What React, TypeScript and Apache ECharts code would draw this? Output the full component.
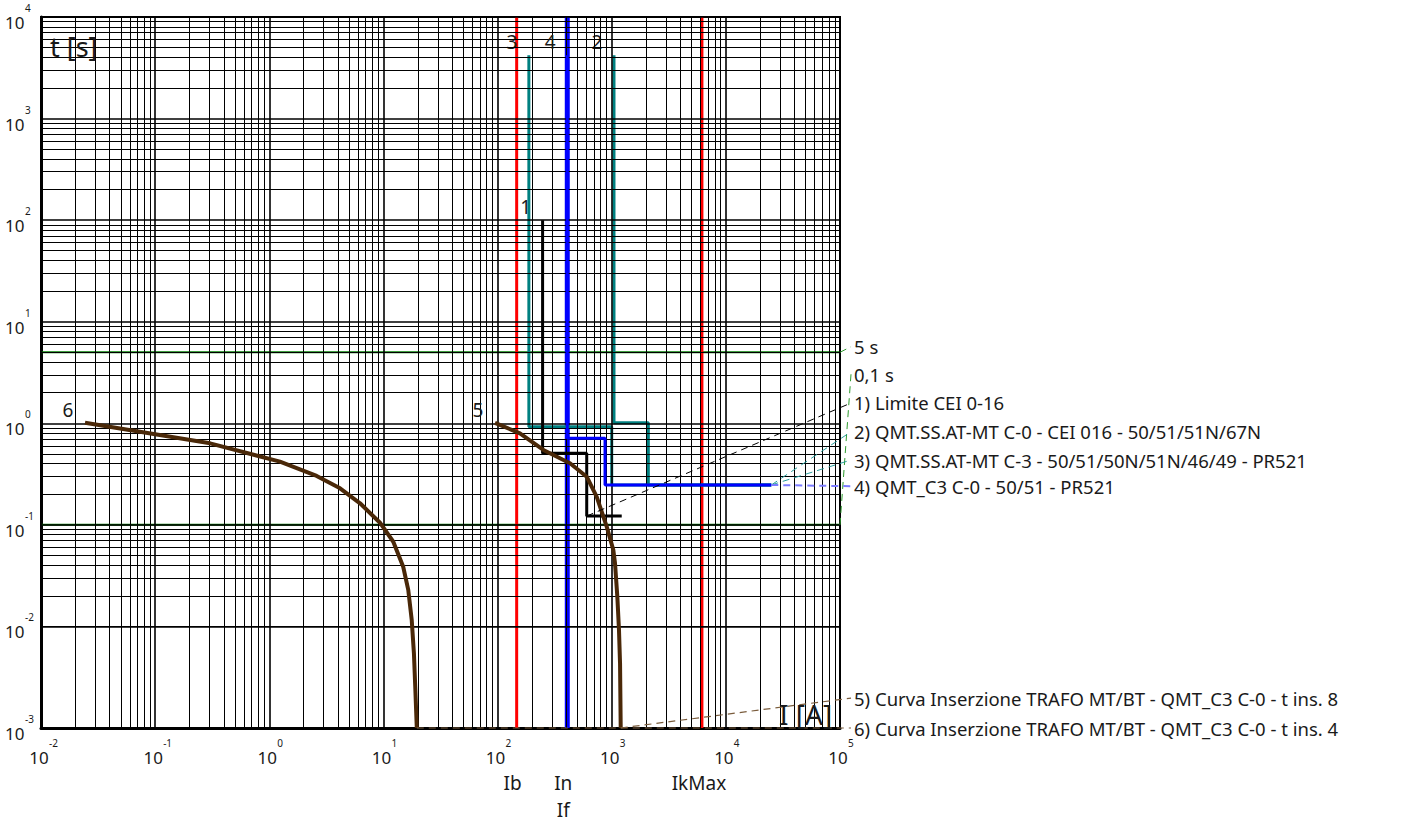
import React, { useEffect, useRef } from 'react';
import * as echarts from 'echarts';

const FONT = '"Noto Sans", "Open Sans", sans-serif';

// axis ranges
const X_MIN = 0.01;
const X_MAX = 1e5;
const Y_MIN = 0.001;
const Y_MAX = 1e4;

// tick label exponents (powers of ten)
const xTickExps = [-2, -1, 0, 1, 2, 3, 4, 5];
const yTickExps = [-3, -2, -1, 0, 1, 2, 3, 4];

// curves: [current A, time s]
const curve1 = [[248, 100], [248, 0.507], [604, 0.507], [604, 0.122], [1224, 0.122]];
const curve2 = [[1047, 4200], [1047, 1.01], [2093, 1.01], [2093, 0.247], [25000, 0.247]];
const curve3 = [[188, 4200], [188, 0.925], [1000, 0.925], [1000, 0.247], [25000, 0.247]];
const curve4 = [[408, 4200], [408, 0.711], [874, 0.711], [874, 0.247], [25000, 0.247]];
const curve5 = [
  [95, 1.01], [157, 0.796], [252, 0.546], [431, 0.404], [604, 0.298], [739, 0.189],
  [904, 0.096], [1033, 0.0566], [1069, 0.0418], [1120, 0.0196], [1158, 0.00923],
  [1183, 0.00433], [1199, 0.001],
];
const curve6 = [
  [0.0243, 1.01], [0.303, 0.635], [1.24, 0.419], [2.6, 0.303], [4.17, 0.229],
  [6.24, 0.163], [9.33, 0.105], [12.2, 0.0682], [14.9, 0.0387], [16.5, 0.0229],
  [17.7, 0.01155], [18.5, 0.00543], [19.0, 0.00255], [19.6, 0.001],
];

// vertical markers (A)
const markerIb = 147;
const markerIn = 408;
const markerIkMax = 6170;

// time limits (s)
const timeLimits = [5, 0.1];

// legend / leader lines
const legendTexts = [
  '5 s',
  '0,1 s',
  '1) Limite CEI 0-16',
  '2) QMT.SS.AT-MT C-0 - CEI 016 - 50/51/51N/67N',
  '3) QMT.SS.AT-MT C-3 - 50/51/50N/51N/46/49 - PR521',
  '4) QMT_C3 C-0 - 50/51 - PR521',
  '5) Curva Inserzione TRAFO MT/BT - QMT_C3 C-0 - t ins. 8',
  '6) Curva Inserzione TRAFO MT/BT - QMT_C3 C-0 - t ins. 4',
];
const leaderFrom = [
  [1e5, 5], [1e5, 0.1], [604, 0.122], [25000, 0.247], [25000, 0.247], [25000, 0.247],
  [1199, 0.001], [19.6, 0.001],
];
const legendAnchorX = 124900;
const legendAnchorT = [5.68, 3.055, 1.584, 0.826, 0.435, 0.24, 0.00197, 0.001];
const leaderColors = ['#2e9b2e', '#2e9b2e', '#000000', '#2a9d9d', '#2a9d9d', '#7b7bff', '#7a5c3c', '#7a5c3c'];
const leaderWidths = [1, 1, 1, 1, 1, 2, 1.2, 1.2];

// grid lines (1..9 x 10^k)
const gridX: { v: number; major: boolean }[] = [];
for (let k = -2; k <= 4; k++) for (let m = 1; m <= 9; m++) gridX.push({ v: m * Math.pow(10, k), major: m === 1 });
gridX.push({ v: 1e5, major: true });
const gridY: { v: number; major: boolean }[] = [];
for (let k = -3; k <= 3; k++) for (let m = 1; m <= 9; m++) gridY.push({ v: m * Math.pow(10, k), major: m === 1 });
gridY.push({ v: 1e4, major: true });

const TXT = '#1a1a1a';

function curveSeries(data: number[][], color: string, width: number, label: string, z: number) {
  return {
    type: 'line',
    z,
    data: data.map((p, i) =>
      i === 0
        ? {
            value: p,
            label: {
              show: true,
              formatter: label,
              position: 'inside',
              offset: [-17, -13],
              fontSize: 19,
              color: TXT,
              fontFamily: FONT,
            },
          }
        : p
    ),
    symbol: 'circle',
    symbolSize: 0,
    showSymbol: true,
    showAllSymbol: true,
    lineStyle: { color, width },
    itemStyle: { color },
    silent: true,
    emphasis: { disabled: true },
  };
}

function markerSeries(x: number, color: string, width: number, label: string, offset: number[], z: number) {
  return {
    type: 'line',
    z,
    clip: false,
    data: [
      {
        value: [x, Y_MIN],
        label: {
          show: true,
          formatter: label,
          position: 'inside',
          offset,
          fontSize: 19,
          lineHeight: 27,
          color: TXT,
          fontFamily: FONT,
        },
      },
      [x, Y_MAX],
    ],
    symbol: 'circle',
    symbolSize: 0,
    showSymbol: true,
    lineStyle: { color, width },
    itemStyle: { color },
    silent: true,
    emphasis: { disabled: true },
  };
}

export default function App() {
  const ref = useRef<HTMLDivElement>(null);
  useEffect(() => {
    if (!ref.current) return;
    const chart = echarts.init(ref.current, null, { renderer: 'svg' });
    const option: any = {
      animation: false,
      backgroundColor: '#ffffff',
      textStyle: { fontFamily: FONT },
      grid: {
        left: 41,
        right: 571,
        top: 17,
        bottom: 96,
        show: true,
        borderColor: '#000',
        borderWidth: 2,
        backgroundColor: 'transparent',
      },
      xAxis: {
        type: 'log',
        logBase: 10,
        min: X_MIN,
        max: X_MAX,
        axisLine: { show: true, lineStyle: { color: '#000', width: 3 } },
        axisTick: { show: false },
        splitLine: { show: false },
        axisLabel: { show: false },
      },
      yAxis: {
        type: 'log',
        logBase: 10,
        min: Y_MIN,
        max: Y_MAX,
        axisLine: { show: true, lineStyle: { color: '#000', width: 3 } },
        axisTick: { show: false },
        splitLine: { show: false },
        axisLabel: { show: false },
      },
      graphic: [
        {
          type: 'text',
          x: 50,
          y: 46,
          z: 100,
          style: { text: 't [s]', fontSize: 27, fontFamily: FONT, fill: TXT, align: 'left', verticalAlign: 'middle' },
        },
        {
          type: 'text',
          x: 779,
          y: 714,
          z: 100,
          style: { text: 'I [A]', fontSize: 28, fontFamily: FONT, fill: TXT, align: 'left', verticalAlign: 'middle' },
        },
      ],
      series: [
        {
          type: 'line',
          z: 1,
          data: [[X_MIN, Y_MIN]],
          symbol: 'none',
          lineStyle: { opacity: 0 },
          silent: true,
          markLine: {
            silent: true,
            symbol: ['none', 'none'],
            label: { show: false },
            emphasis: { disabled: true },
            lineStyle: { type: 'solid', color: '#000', width: 1 },
            data: [
              ...gridX.map((g) => ({ xAxis: g.v, lineStyle: { type: 'solid', color: '#000', width: g.major ? 1.6 : 1 } })),
              ...gridY.map((g) => ({ yAxis: g.v, lineStyle: { type: 'solid', color: '#000', width: g.major ? 1.6 : 1 } })),
            ],
          },
        },
        // x tick labels: 10^k
        {
          type: 'custom',
          z: 20,
          clip: false,
          silent: true,
          data: xTickExps.map((k) => [Math.pow(10, k), Y_MIN]),
          renderItem: (params: any, api: any) => {
            const p = api.coord([api.value(0), api.value(1)]);
            const k = xTickExps[params.dataIndex];
            return {
              type: 'group',
              children: [
                {
                  type: 'text',
                  x: p[0] - 2,
                  y: p[1] + 29,
                  style: { text: '10', fontSize: 17, fontFamily: FONT, fill: TXT, align: 'center', verticalAlign: 'middle' },
                },
                {
                  type: 'text',
                  x: p[0] + 8,
                  y: p[1] + 15,
                  style: { text: String(k), fontSize: 10, fontFamily: FONT, fill: TXT, align: 'left', verticalAlign: 'middle' },
                },
              ],
            };
          },
        },
        // y tick labels: 10^k
        {
          type: 'custom',
          z: 20,
          clip: false,
          silent: true,
          data: yTickExps.map((k) => [X_MIN, Math.pow(10, k)]),
          renderItem: (params: any, api: any) => {
            const p = api.coord([api.value(0), api.value(1)]);
            const k = yTickExps[params.dataIndex];
            return {
              type: 'group',
              children: [
                {
                  type: 'text',
                  x: p[0] - 16.5,
                  y: p[1] + 5.5,
                  style: { text: '10', fontSize: 17, fontFamily: FONT, fill: TXT, align: 'right', verticalAlign: 'middle' },
                },
                {
                  type: 'text',
                  x: p[0] - 16,
                  y: p[1] - 9,
                  style: { text: String(k), fontSize: 10, fontFamily: FONT, fill: TXT, align: 'left', verticalAlign: 'middle' },
                },
              ],
            };
          },
        },
        ...timeLimits.map((t) => ({
          type: 'line',
          z: 2,
          data: [[X_MIN, t], [X_MAX, t]],
          symbol: 'none',
          lineStyle: { color: '#008000', width: 2 },
          silent: true,
        })),
        markerSeries(markerIb, '#ff0000', 3, 'Ib', [-4, 55], 3),
        markerSeries(markerIkMax, '#ff0000', 3, 'IkMax', [-3, 55], 3),
        markerSeries(markerIn, '#0000ff', 5, 'In\nIf', [-4, 68], 3),
        curveSeries(curve2, '#008080', 3, '2', 4),
        curveSeries(curve3, '#008080', 3, '3', 4),
        curveSeries(curve4, '#0000ff', 3, '4', 5),
        curveSeries(curve1, '#000000', 3, '1', 6),
        curveSeries(curve5, '#4a2808', 4, '5', 7),
        curveSeries(curve6, '#4a2808', 4, '6', 7),
        {
          type: 'custom',
          z: 10,
          clip: false,
          silent: true,
          data: leaderFrom.map((p, i) => [p[0], p[1], legendAnchorX, legendAnchorT[i]]),
          encode: { x: [0, 2], y: [1, 3] },
          renderItem: (params: any, api: any) => {
            const i = params.dataIndex;
            const a = api.coord([api.value(0), api.value(1)]);
            const b = api.coord([api.value(2), api.value(3)]);
            return {
              type: 'group',
              children: [
                {
                  type: 'line',
                  shape: { x1: a[0], y1: a[1], x2: b[0], y2: b[1] },
                  style: { stroke: leaderColors[i], lineWidth: leaderWidths[i], lineDash: [7, 5] },
                },
                {
                  type: 'text',
                  x: b[0] + 3,
                  y: b[1],
                  style: {
                    text: legendTexts[i],
                    fill: TXT,
                    fontSize: 18.5,
                    fontFamily: FONT,
                    align: 'left',
                    verticalAlign: 'middle',
                  },
                },
              ],
            };
          },
        },
      ],
    };
    chart.setOption(option);
    return () => chart.dispose();
  }, []);
  return <div ref={ref} style={{ position: 'fixed', left: 0, top: 0, width: 1411, height: 824 }} />;
}
